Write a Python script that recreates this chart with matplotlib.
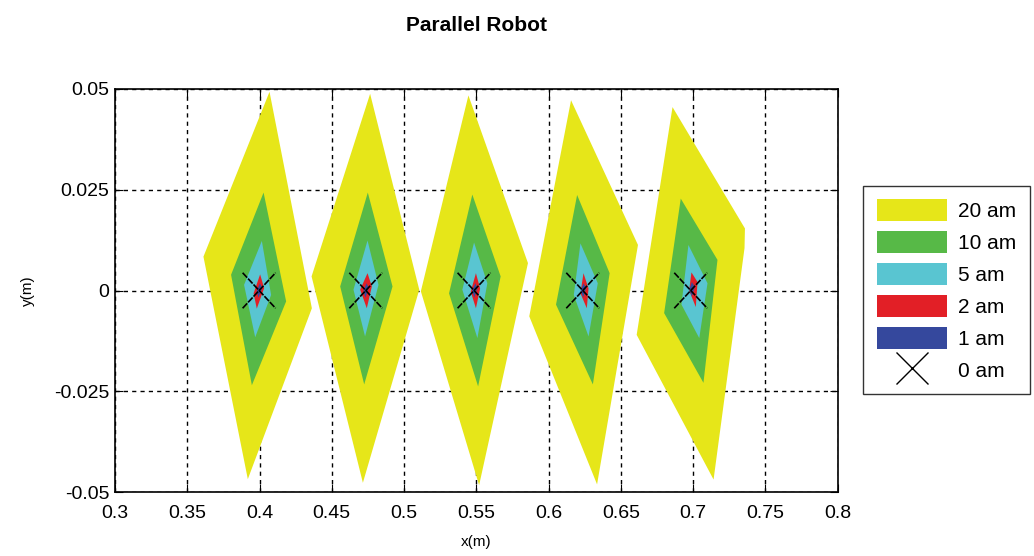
"""Parallel robot workspace figure: accuracy regions around five poses."""

import matplotlib

matplotlib.use("Agg")
import matplotlib.pyplot as plt
from matplotlib.lines import Line2D
from matplotlib.patches import Patch, Polygon

# pose centres (0 am points)
centers_x = [0.3997, 0.4735, 0.5484, 0.6236, 0.6983]
centers_y = [0.0, 0.0, 0.0, 0.0, 0.0]

# region outlines per pose, vertices (top, right, bottom, left)
am20_x = [[0.4069, 0.4362, 0.3919, 0.3612],
          [0.4765, 0.5105, 0.4715, 0.4360],
          [0.5445, 0.5857, 0.5519, 0.5116],
          [0.6155, 0.6618, 0.6335, 0.5866],
          [0.6857, 0.7358, 0.7355, 0.7141, 0.6609]]
am20_y = [[0.0493, -0.0044, -0.0468, 0.0084],
          [0.0488, 0.0002, -0.0477, 0.0035],
          [0.0484, 0.0068, -0.0483, -0.0002],
          [0.0472, 0.0113, -0.0481, -0.0064],
          [0.0455, 0.0154, 0.0105, -0.0469, -0.0110]]

am10_x = [[0.4028, 0.4184, 0.3947, 0.3803],
          [0.4749, 0.4920, 0.4724, 0.4558],
          [0.5472, 0.5668, 0.5512, 0.5311],
          [0.6197, 0.6422, 0.6306, 0.6051],
          [0.6914, 0.7168, 0.7071, 0.6799]]
am10_y = [[0.0243, -0.0027, -0.0235, 0.0039],
          [0.0243, 0.0010, -0.0233, 0.0010],
          [0.0238, 0.0035, -0.0238, -0.0007],
          [0.0237, 0.0043, -0.0233, -0.0035],
          [0.0228, 0.0076, -0.0229, -0.0056]]

am5_x = [[0.4016, 0.4080, 0.3970, 0.3893],
         [0.4747, 0.4823, 0.4730, 0.4650],
         [0.5484, 0.5576, 0.5507, 0.5403],
         [0.6220, 0.6340, 0.6276, 0.6174],
         [0.6967, 0.7099, 0.7042, 0.6919]]
am5_y = [[0.0123, -0.0011, -0.0116, 0.0014],
         [0.0124, 0.0014, -0.0114, 0.0002],
         [0.0119, 0.0018, -0.0118, 0.0002],
         [0.0117, 0.0018, -0.0114, -0.0011],
         [0.0113, 0.0018, -0.0118, -0.0035]]

am2_x = [[0.4004, 0.4032, 0.3981, 0.3959],
         [0.4747, 0.4777, 0.4742, 0.4696],
         [0.5497, 0.5526, 0.5497, 0.5461],
         [0.6241, 0.6276, 0.6264, 0.6220],
         [0.6988, 0.7030, 0.7018, 0.6972]]
am2_y = [[0.0040, 0.0006, -0.0045, -0.0007],
         [0.0043, 0.0010, -0.0044, 0.0002],
         [0.0043, 0.0005, -0.0044, -0.0003],
         [0.0043, 0.0005, -0.0044, -0.0007],
         [0.0045, 0.0021, -0.0041, 0.0000]]

am1_x = [[0.4003, 0.4018, 0.3992, 0.3980],
         [0.4741, 0.4755, 0.4732, 0.4719],
         [0.5493, 0.5507, 0.5486, 0.5471],
         [0.6241, 0.6259, 0.6239, 0.6223],
         [0.6991, 0.7011, 0.6991, 0.6973]]
am1_y = [[0.0018, 0.0006, -0.0018, -0.0002],
         [0.0018, 0.0006, -0.0018, 0.0000],
         [0.0018, 0.0006, -0.0018, 0.0000],
         [0.0018, 0.0006, -0.0018, 0.0000],
         [0.0021, 0.0009, -0.0015, 0.0002]]

level_labels = ["20 am", "10 am", "5 am", "2 am", "1 am", "0 am"]
x_ticks = [0.3, 0.35, 0.4, 0.45, 0.5, 0.55, 0.6, 0.65, 0.7, 0.75, 0.8]
x_tick_labels = ["0.3", "0.35", "0.4", "0.45", "0.5", "0.55", "0.6", "0.65", "0.7", "0.75", "0.8"]
y_ticks = [-0.05, -0.025, 0.0, 0.025, 0.05]
y_tick_labels = ["-0.05", "-0.025", "0", "0.025", "0.05"]

colors = ["#E6E619", "#57B947", "#59C5D1", "#E21F26", "#35489D"]

plt.rcParams.update(
    {
        "font.family": ["Liberation Sans", "DejaVu Sans"],
        "font.size": 14,
    }
)

fig = plt.figure(figsize=(10.34, 5.56), dpi=100)
ax = fig.add_axes([0.1112, 0.115, 0.699, 0.725])

levels = [(am20_x, am20_y), (am10_x, am10_y), (am5_x, am5_y), (am2_x, am2_y), (am1_x, am1_y)]
for (xs_all, ys_all), color in zip(levels, colors):
    for xs, ys in zip(xs_all, ys_all):
        ax.add_patch(Polygon(list(zip(xs, ys)), closed=True, facecolor=color,
                             edgecolor="none", zorder=2))

# 0 am crosses, drawn as dashed strokes
half_w, half_h = 0.0114, 0.0044
for cx, cy in zip(centers_x, centers_y):
    for sign in (1, -1):
        ax.plot([cx - half_w, cx + half_w], [cy - sign * half_h, cy + sign * half_h],
                color="black", linewidth=1.2, linestyle=(0, (4, 0.8)), zorder=3)

ax.set_xlim(0.3, 0.8)
ax.set_ylim(-0.05, 0.05)
ax.set_xticks(x_ticks)
ax.set_xticklabels(x_tick_labels)
ax.set_yticks(y_ticks)
ax.set_yticklabels(y_tick_labels)
ax.tick_params(direction="in", length=6, top=True, right=True, labelsize=14)
ax.tick_params(axis="x", pad=9)
ax.tick_params(axis="y", pad=4)
ax.set_axisbelow(True)
ax.grid(True, color="black", linestyle=(0, (3, 3)), linewidth=1.0)
for spine in ax.spines.values():
    spine.set_linewidth(1.2)

ax.set_xlabel("x(m)", fontsize=11, labelpad=10)
ax.set_ylabel("y(m)", fontsize=11, labelpad=14)
ax.set_title("Parallel Robot", fontsize=15, fontweight="bold", pad=42)

handles = [Patch(facecolor=c, edgecolor="none") for c in colors]
handles.append(Line2D([], [], marker="x", color="black", linestyle="none",
                      markersize=23, markeredgewidth=1.0))
leg = fig.legend(handles, level_labels, loc="center left",
                 bbox_to_anchor=(0.8346, 0.4785), fontsize=15, frameon=True,
                 fancybox=False, edgecolor="black", handlelength=3.4,
                 handleheight=1.25, labelspacing=0.47, handletextpad=0.5,
                 borderpad=0.65, borderaxespad=0.0)
leg.get_frame().set_linewidth(1.0)

fig.savefig("out.png", dpi=100)
